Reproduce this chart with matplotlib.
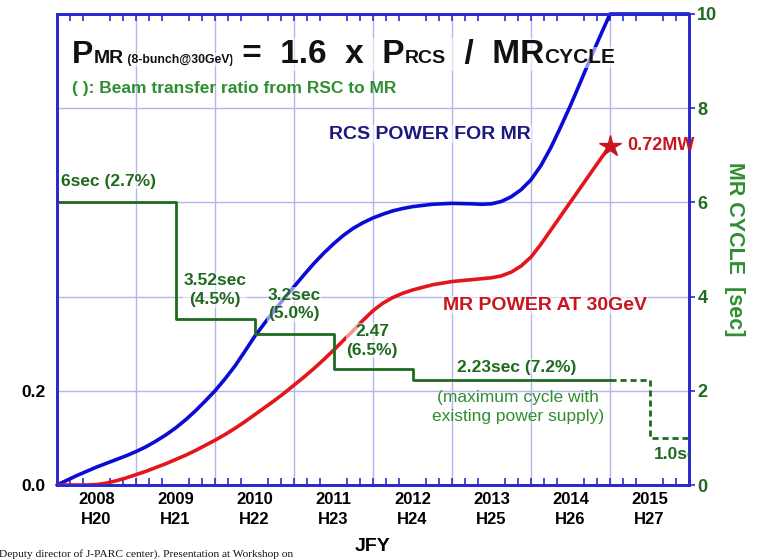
import matplotlib
matplotlib.use("Agg")
import matplotlib.pyplot as plt
from matplotlib.ticker import MultipleLocator

# ---- data -------------------------------------------------------------
year_labels = ["2008\nH20", "2009\nH21", "2010\nH22", "2011\nH23",
               "2012\nH24", "2013\nH25", "2014\nH26", "2015\nH27"]
year_ticks = [2008, 2009, 2010, 2011, 2012, 2013, 2014, 2015]

# RCS power available for the MR (MW, left axis)
rcs_years = [2007.5, 2007.625, 2007.75, 2007.875, 2008.0, 2008.125, 2008.25, 2008.375,
             2008.5, 2008.625, 2008.75, 2008.875, 2009.0, 2009.125, 2009.25, 2009.375,
             2009.5, 2009.625, 2009.75, 2009.875, 2010.0, 2010.125, 2010.25, 2010.375,
             2010.5, 2010.625, 2010.75, 2010.875, 2011.0, 2011.125, 2011.25, 2011.375,
             2011.5, 2011.625, 2011.75, 2011.875, 2012.0, 2012.25, 2012.5, 2012.75,
             2012.875, 2013.0, 2013.125, 2013.25, 2013.375, 2013.5, 2013.625, 2013.75,
             2013.875, 2014.0, 2014.125, 2014.25, 2014.375, 2014.5, 2015.5]
rcs_power = [0.000, 0.010, 0.020, 0.029, 0.038, 0.046, 0.054, 0.062,
             0.071, 0.081, 0.093, 0.106, 0.121, 0.138, 0.157, 0.178,
             0.200, 0.225, 0.252, 0.283, 0.315, 0.343, 0.370, 0.396,
             0.421, 0.446, 0.470, 0.492, 0.512, 0.530, 0.545, 0.557,
             0.567, 0.575, 0.582, 0.587, 0.591, 0.596, 0.598, 0.597,
             0.596, 0.597, 0.602, 0.612, 0.627, 0.648, 0.678, 0.716,
             0.760, 0.806, 0.855, 0.905, 0.953, 1.000, 1.000]

# MR beam power at 30 GeV (MW, left axis)
mr_years = [2007.5, 2007.75, 2007.875, 2008.0, 2008.125, 2008.25, 2008.375,
            2008.5, 2008.625, 2008.75, 2008.875, 2009.0, 2009.125, 2009.25, 2009.375,
            2009.5, 2009.625, 2009.75, 2009.875, 2010.0, 2010.125, 2010.25, 2010.375,
            2010.5, 2010.625, 2010.75, 2010.875, 2011.0, 2011.125, 2011.25, 2011.375,
            2011.5, 2011.625, 2011.75, 2011.875, 2012.0, 2012.25, 2012.5, 2012.75,
            2013.0, 2013.125, 2013.25, 2013.375, 2013.5, 2013.625, 2013.75,
            2013.875, 2014.0, 2014.125, 2014.25, 2014.375, 2014.5]
mr_power = [0.000, 0.000, 0.000, 0.001, 0.004, 0.009, 0.015,
            0.022, 0.029, 0.037, 0.045, 0.054, 0.063, 0.073, 0.084,
            0.095, 0.107, 0.120, 0.134, 0.149, 0.164, 0.179, 0.195,
            0.212, 0.229, 0.247, 0.266, 0.286, 0.307, 0.328, 0.350,
            0.370, 0.386, 0.398, 0.407, 0.414, 0.425, 0.432, 0.436,
            0.440, 0.444, 0.452, 0.465, 0.484, 0.511, 0.541,
            0.571, 0.601, 0.631, 0.661, 0.691, 0.720]
mr_final = 0.72

# MR repetition cycle (sec, right axis)
cycle_years = [2007.5, 2009, 2010, 2011, 2012, 2014.5]
cycle_sec = [6.0, 3.52, 3.2, 2.47, 2.23, 2.23]
cycle_plan_years = [2014.5, 2015, 2015.5]
cycle_plan_sec = [2.23, 1.0, 1.0]

# ---- styling ----------------------------------------------------------
BLUE = "#0b0bd6"
RED = "#e3161b"
SPINE = "#2a2ad0"
GRID = "#b4b4ee"
GREEN = "#1f6a1f"
LGREEN = "#2f8f2f"
NAVY = "#1a1a80"
DRED = "#c8161e"

plt.rcParams["font.family"] = ["Liberation Sans", "DejaVu Sans"]

fig = plt.figure(figsize=(7.63, 5.6), dpi=100)
ax = fig.add_axes([57 / 763, 75 / 560, 632 / 763, 471 / 560])
ax2 = ax.twinx()

ax.set_xlim(2007.5, 2015.5)
ax.set_ylim(0, 1.0)
ax2.set_ylim(0, 10)

for a in (ax, ax2):
    for s in a.spines.values():
        s.set_color(SPINE)
        s.set_linewidth(2.0)

# grid
ax.xaxis.set_minor_locator(MultipleLocator(1 / 6))
for gx in [2008.5 + i for i in range(7)]:
    ax.axvline(gx, color=GRID, lw=1.0, zorder=0)
for gy in [0.2, 0.4, 0.6, 0.8]:
    ax.axhline(gy, color=GRID, lw=1.0, zorder=0)

ax.set_xticks(year_ticks)
ax.set_xticklabels(year_labels, fontsize=12, fontweight="bold", linespacing=1.4)
ax.tick_params(axis="x", which="major", length=0, pad=5)
ax.tick_params(axis="x", which="minor", direction="in", length=5,
               color=SPINE, width=1.2, top=True, bottom=True)
ax.set_xlabel("JFY", fontsize=14, fontweight="bold", labelpad=8)

ax.set_yticks([0.0, 0.2])
ax.set_yticklabels(["0.0", "0.2"], fontsize=12.5, fontweight="bold")
ax.tick_params(axis="y", length=0, pad=8)

ax2.set_yticks([0, 2, 4, 6, 8, 10])
ax2.set_yticklabels(["0", "2", "4", "6", "8", "10"], fontsize=13,
                    fontweight="bold", color=GREEN)
ax2.tick_params(axis="y", direction="out", length=4, color=SPINE, width=1.2, pad=2)
ax2.set_ylabel("MR CYCLE  [sec]", fontsize=15.5, fontweight="bold",
               color=LGREEN, rotation=-90, labelpad=20)

# curves
ax.plot(rcs_years, rcs_power, color=BLUE, lw=2.6, solid_capstyle="round",
        solid_joinstyle="round", zorder=3, clip_on=False)
ax.plot(mr_years, mr_power, color=RED, lw=2.6, solid_capstyle="round",
        solid_joinstyle="round", zorder=3)
ax.plot([mr_years[-1]], [mr_final], marker="*", color=DRED, ms=16, zorder=4)

ax2.plot(cycle_years, cycle_sec, drawstyle="steps-post", color=GREEN, lw=2.0,
         zorder=2)
ax2.plot(cycle_plan_years, cycle_plan_sec, drawstyle="steps-post", color=GREEN,
         lw=2.0, ls=(0, (2.2, 1.4)), zorder=2)

halo = dict(facecolor="white", alpha=0.55, edgecolor="none", pad=0.5)


def label(x, y, s, color, size=12.5, weight="bold", ha="center", clip=False, box=True):
    return ax2.text(x, y, s, color=color, fontsize=size, fontweight=weight, ha=ha,
                    va="center", zorder=5, linespacing=1.3, clip_on=clip,
                    bbox=halo if box else None)


label(2007.55, 6.45, "6sec (2.7%)", GREEN, ha="left")
label(2009.5, 4.14, "3.52sec\n(4.5%)", GREEN)
label(2010.5, 3.83, "3.2sec\n(5.0%)", GREEN)
label(2011.49, 3.06, "2.47\n(6.5%)", GREEN)
label(2013.32, 2.5, "2.23sec (7.2%)", GREEN)
label(2013.33, 1.65, "(maximum cycle with\nexisting power supply)", LGREEN,
      weight="normal", box=False)
label(2015.05, 0.64, "1.0sec", GREEN, ha="left", clip=True, box=False)
label(2012.22, 7.45, "RCS POWER FOR MR", NAVY, size=14)
label(2013.68, 3.82, "MR POWER AT 30GeV", DRED, size=14)
label(2014.72, 7.2, "0.72MW", DRED, size=13, ha="left", box=False)

# headline formula, pieces laid on a common baseline
fig.canvas.draw()
renderer = fig.canvas.get_renderer()
W, H = fig.get_size_inches() * fig.dpi
pieces = [("P", 23), ("MR", 14), (" (8-bunch@30GeV)", 8.8), (" =  1.6  x  P", 24),
          ("RCS", 14), ("  /  MR", 24), ("CYCLE", 15)]
x0, base = 72, 560 - 63
for s, size in pieces:
    t = fig.text(x0 / W, base / H, s, fontsize=size, fontweight="bold",
                 color="#111111", va="baseline", ha="left", zorder=6,
                 bbox=dict(facecolor="white", alpha=0.55, edgecolor="none", pad=0.5))
    x0 += t.get_window_extent(renderer).width

fig.text(72 / W, (560 - 88) / H, "( ): Beam transfer ratio from RSC to MR",
         fontsize=12.5, fontweight="bold", color=LGREEN, va="center", ha="left")

fig.text(-1 / W, 1 / H, "Deputy director of J-PARC center). Presentation at Workshop on",
         fontsize=8.2, fontfamily="Liberation Serif", color="#111111",
         va="bottom", ha="left")

fig.savefig("out.png", dpi=100)
